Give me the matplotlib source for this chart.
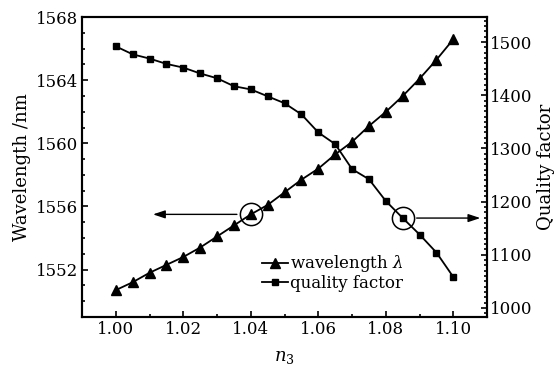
import numpy as np
import matplotlib.pyplot as plt
from matplotlib.ticker import MultipleLocator
from matplotlib.lines import Line2D

# donnees
n3 = [1.000, 1.005, 1.010, 1.015, 1.020, 1.025, 1.030, 1.035, 1.040, 1.045, 1.050,
      1.055, 1.060, 1.065, 1.070, 1.075, 1.080, 1.085, 1.090, 1.095, 1.100]
wavelength = [1550.7, 1551.2, 1551.8, 1552.3, 1552.8, 1553.4, 1554.1, 1554.8, 1555.5, 1556.1, 1556.9,
              1557.7, 1558.4, 1559.3, 1560.1, 1561.1, 1562.0, 1563.0, 1564.1, 1565.3, 1566.6]
quality = [1492, 1477, 1469, 1459, 1452, 1441, 1432, 1417, 1411, 1398, 1385,
           1364, 1330, 1308, 1261, 1242, 1201, 1169, 1138, 1104, 1058]

plt.rcParams['font.family'] = ['DejaVu Serif']
plt.rcParams['mathtext.fontset'] = 'dejavuserif'
plt.rcParams['font.size'] = 12

fig = plt.figure(figsize=(5.58, 3.72), dpi=100)
ax = fig.add_axes([0.147, 0.148, 0.726, 0.806])
ax2 = ax.twinx()

ax.plot(n3, wavelength, color='black', lw=1.3, marker='^', ms=6.5)
ax2.plot(n3, quality, color='black', lw=1.3, marker='s', ms=5)

ax.set_xlim(0.99, 1.11)
ax.set_ylim(1549, 1568)
ax2.set_ylim(983, 1547)

ax.xaxis.set_major_locator(MultipleLocator(0.02))
ax.xaxis.set_minor_locator(MultipleLocator(0.01))
ax.yaxis.set_major_locator(MultipleLocator(4))
ax.yaxis.set_minor_locator(MultipleLocator(1))
ax2.yaxis.set_major_locator(MultipleLocator(100))
ax2.yaxis.set_minor_locator(MultipleLocator(10))
ax.xaxis.set_major_formatter(plt.FormatStrFormatter('%.2f'))

ax.tick_params(axis='both', which='both', direction='in', width=1.2, top=False, right=False, pad=3)
ax.tick_params(which='major', length=4)
ax.tick_params(which='minor', length=2.5)
ax2.tick_params(axis='y', which='both', direction='in', width=1.2, pad=2)
ax2.tick_params(which='major', length=4)
ax2.tick_params(which='minor', length=2.5)
for a in (ax, ax2):
    for s in a.spines.values():
        s.set_linewidth(1.5)

ax.set_xlabel('$n_3$', fontsize=13, labelpad=7)
ax.set_ylabel('Wavelength /nm', fontsize=13, labelpad=3)
ax2.set_ylabel('Quality factor', fontsize=13, labelpad=3)

# cercles + fleches
ax.plot(n3[8], wavelength[8], 'o', ms=16, mfc='none', mec='black', mew=1.1)
ax.annotate('', xy=(1.0102, wavelength[8]), xytext=(1.0367, wavelength[8]),
            arrowprops=dict(arrowstyle='-|>,head_length=0.6,head_width=0.2', color='black',
                            lw=1.0, mutation_scale=12))
ax2.plot(n3[17], quality[17], 'o', ms=16, mfc='none', mec='black', mew=1.1)
ax2.annotate('', xy=(1.1088, quality[17]), xytext=(1.0883, quality[17]),
             arrowprops=dict(arrowstyle='-|>,head_length=0.6,head_width=0.2', color='black',
                             lw=1.0, mutation_scale=12))

handles = [Line2D([], [], color='black', lw=1.3, marker='^', ms=6.5),
           Line2D([], [], color='black', lw=1.3, marker='s', ms=5)]
ax.legend(handles, ['wavelength $\\lambda$', 'quality factor'], loc='lower right',
          bbox_to_anchor=(0.81, 0.06), frameon=False, handlelength=1.6,
          handletextpad=0.1, labelspacing=0.05, borderaxespad=0, fontsize=12)

fig.savefig('out.png', dpi=100)
